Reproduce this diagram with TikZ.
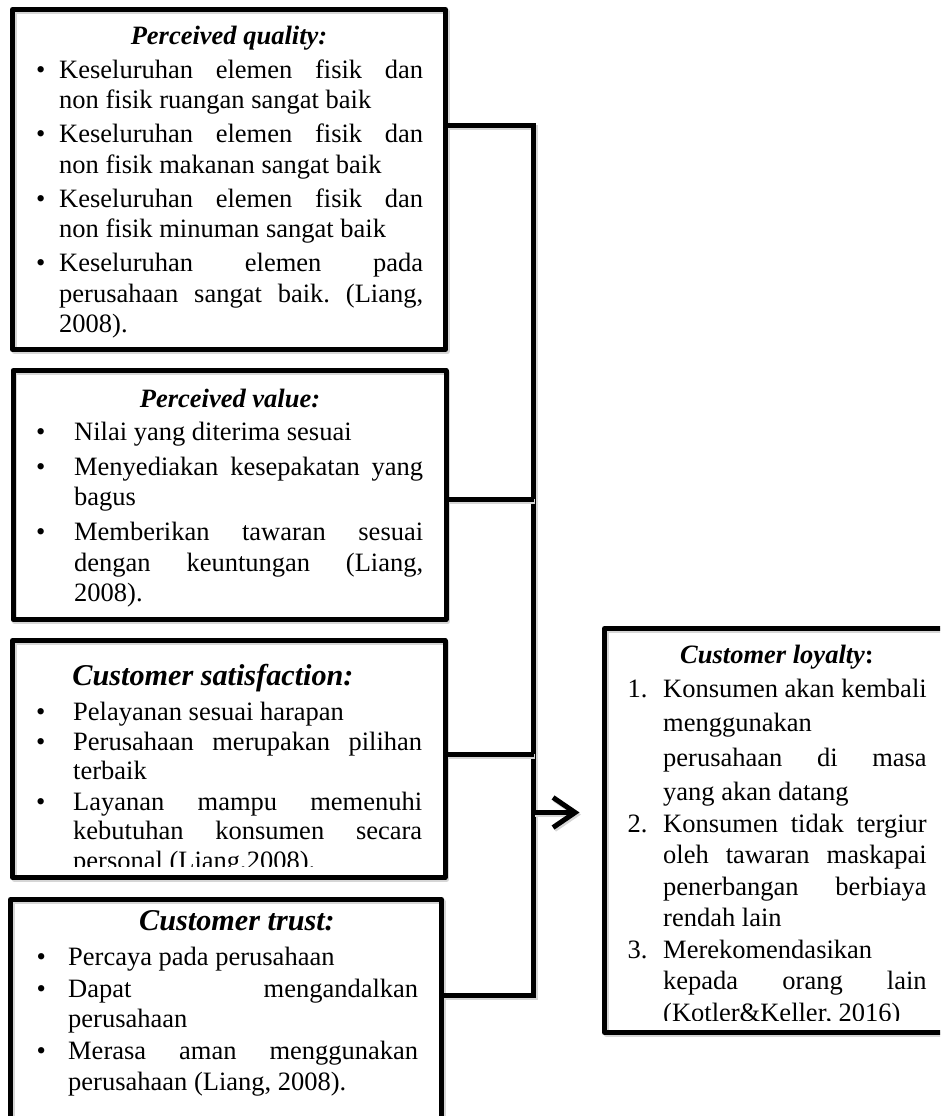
\documentclass[tikz,border=0pt]{standalone}
\usepackage{fontspec}
\setmainfont{Liberation Serif}
\usetikzlibrary{arrows.meta}
\hyphenpenalty=10000 \exhyphenpenalty=10000 \tolerance=10000 \hbadness=10000 \hfuzz=6pt
\newlength{\itind}
\newcommand{\bitem}[2]{\hangindent=\itind\hangafter=1\leavevmode\makebox[\itind][l]{#1}#2\par}
\newcommand{\bs}[1]{\fontsize{26.5pt}{#1}\selectfont\frenchspacing\parindent=0pt\leftskip=0pt\rightskip=0pt\parfillskip=0pt plus 1fil\relax}
\begin{document}
\begin{tikzpicture}[x=1pt,y=1pt,
  shd/.style={preaction={draw=black!16,line width=5pt,transform canvas={shift={(1.5pt,-2pt)}}}},
  frame/.style={draw,line width=5pt,inner sep=0pt,shd,line join=round},
  con/.style={draw,line width=5pt,shd},
  ttl/.style={anchor=base,inner sep=0pt,font=\fontsize{26.5pt}{30.5pt}\selectfont\bfseries\itshape},
  bigttl/.style={ttl,font=\fontsize{30.2pt}{34pt}\selectfont\bfseries\itshape},
  lst/.style={anchor=base west,inner sep=0pt,text width=#1,align=justify}]
\useasboundingbox (0,0) rectangle (940,-1116);
\clip (0,0) rectangle (940,-1116);

% frames
\node[frame,minimum width=433pt,minimum height=340pt] (b1) at (229,-179.5) {};
\node[frame,minimum width=433pt,minimum height=249pt] (b2) at (229.5,-495) {};
\node[frame,minimum width=432.5pt,minimum height=237pt] (b3) at (228.75,-759) {};
\node[frame,minimum width=431pt,minimum height=226pt] (b4) at (226,-1012.5) {};
\node[frame,minimum width=345.5pt,minimum height=404pt] (ly) at (777.25,-830.5) {};

% connectors
\coordinate (j1) at (533.5,-125.5);
\coordinate (j2) at (533.5,-499.5);
\coordinate (j3) at (533.5,-754.5);
\coordinate (j4) at (533.5,-995);
\coordinate (ja) at (533.5,-812.5);
\draw[con] (b1.east |- j1) -- (j1) -- (j4) -- (b4.east |- j4);
\draw[con] (b2.east |- j2) -- (j2);
\draw[con] (b3.east |- j3) -- (j3);
\draw[con,-{Straight Barb[length=22pt,width=30pt]},shorten >=22.5pt] (ja) -- (ly.west |- ja);

% titles
\node[ttl] (b1t) at (229,-45) {Perceived quality:};
\node[ttl] (b2t) at (230,-407) {Perceived value:};
\node[bigttl] (b3t) at (213,-685) {Customer satisfaction:};
\node[bigttl] (b4t) at (237,-930) {Customer trust:};
\node[ttl] (lyt) at (777,-663) {Customer loyalty\upshape:};

% lists
\node[lst=387pt] (b1l) at (36,-78) {\bs{30.5pt}\setlength{\itind}{23pt}%
\bitem{•}{Keseluruhan elemen fisik dan\linebreak non fisik ruangan sangat baik}\vspace{3.5pt}%
\bitem{•}{Keseluruhan elemen fisik dan\linebreak non fisik makanan sangat baik}\vspace{3.5pt}%
\bitem{•}{Keseluruhan elemen fisik dan\linebreak non fisik minuman sangat baik}\vspace{3.5pt}%
\bitem{•}{Keseluruhan elemen pada\linebreak perusahaan sangat baik. (Liang,\linebreak 2008).}};

\node[lst=387pt] (b2l) at (36,-440) {\bs{30.5pt}\setlength{\itind}{38pt}%
\bitem{•}{Nilai yang diterima sesuai}\vspace{4.5pt}%
\bitem{•}{Menyediakan kesepakatan yang\linebreak bagus}\vspace{4.5pt}%
\bitem{•}{Memberikan tawaran sesuai\linebreak dengan keuntungan (Liang,\linebreak 2008).}};

\begin{scope}
\clip (15,-643) rectangle (443,-866);
\node[lst=386pt] (b3l) at (36,-720) {\bs{29.5pt}\setlength{\itind}{37pt}%
\bitem{•}{Pelayanan sesuai harapan}\vspace{0.8pt}%
\bitem{•}{Perusahaan merupakan pilihan\linebreak terbaik}\vspace{0.8pt}%
\bitem{•}{Layanan mampu memenuhi\linebreak kebutuhan konsumen secara\linebreak personal (Liang,2008).}};
\end{scope}

\node[lst=381.5pt] (b4l) at (36.5,-965) {\bs{30.5pt}\setlength{\itind}{31.5pt}%
\bitem{•}{Percaya pada perusahaan}\vspace{1.5pt}%
\bitem{•}{Dapat mengandalkan\linebreak perusahaan}\vspace{1.5pt}%
\bitem{•}{Merasa aman menggunakan\linebreak perusahaan (Liang, 2008).}};

\begin{scope}
\clip (607,-631) rectangle (940,-1020);
\node[lst=299pt] (lyl) at (627.5,-697) {\bs{34.5pt}\setlength{\itind}{35.5pt}%
\bitem{1.}{Konsumen akan kembali\linebreak menggunakan\linebreak perusahaan di masa\linebreak yang akan datang}%
\bs{31.5pt}%
\bitem{2.}{Konsumen tidak tergiur\linebreak oleh tawaran maskapai\linebreak penerbangan berbiaya\linebreak rendah lain}%
\bitem{3.}{Merekomendasikan\linebreak kepada orang lain\linebreak (Kotler\&Keller, 2016)}};
\end{scope}
\end{tikzpicture}
\end{document}
